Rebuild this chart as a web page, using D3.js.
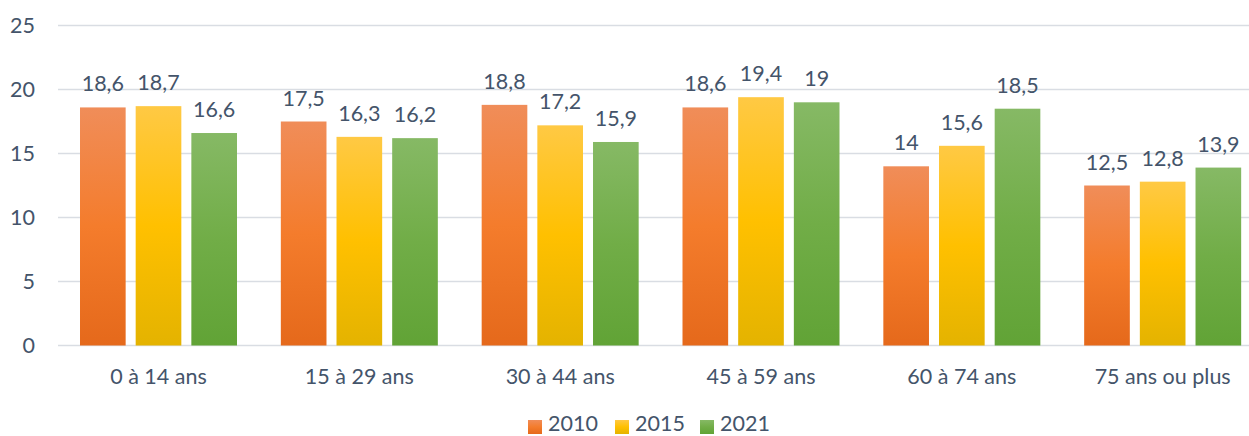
<!DOCTYPE html>
<html><head><meta charset="utf-8">
<script src="https://cdn.jsdelivr.net/npm/d3@7"></script>
<style>body{margin:0;background:#fff}svg{display:block}text{font-family:Lato,"Open Sans",sans-serif;fill:#44546A}</style>
</head><body><svg id="c" width="1249" height="436"></svg>
<script>
const categories = ["0 à 14 ans","15 à 29 ans","30 à 44 ans","45 à 59 ans","60 à 74 ans","75 ans ou plus"];
const seriesNames = ["2010","2015","2021"];
const values2010 = [18.6,17.5,18.8,18.6,14,12.5];
const values2015 = [18.7,16.3,17.2,19.4,15.6,12.8];
const values2021 = [16.6,16.2,15.9,19,18.5,13.9];
const yTicks = [0,5,10,15,20,25];
const seriesValues = [values2010, values2015, values2021];
const gradStops = [
  ["#F08D59","#F47C2C","#E5691B"],
  ["#FFC944","#FFC000","#E4B300"],
  ["#86B965","#71AD47","#61A336"]
];

const W=1249,H=436;
const svg=d3.select("#c");
const x=d3.scaleBand().domain(categories).range([58,1263]);
const y=d3.scaleLinear().domain([0,25]).range([345.5,25.5]);
const inner=d3.scaleBand().domain(seriesNames).range([22,179]).paddingInner(0.18);
const FS=21.5;

const defs=svg.append("defs");
gradStops.forEach((s,i)=>{
  const g=defs.append("linearGradient").attr("id","g"+i).attr("x1",0).attr("y1",0).attr("x2",0).attr("y2",1);
  g.append("stop").attr("offset","0%").attr("stop-color",s[0]);
  g.append("stop").attr("offset","50%").attr("stop-color",s[1]);
  g.append("stop").attr("offset","100%").attr("stop-color",s[2]);
});

svg.append("g").selectAll("line").data(yTicks).join("line")
  .attr("x1",58).attr("x2",W).attr("y1",d=>y(d)).attr("y2",d=>y(d))
  .attr("stroke","#D9DDE3").attr("stroke-width",1.3);
svg.append("g").selectAll("text").data(yTicks).join("text")
  .attr("x",35).attr("y",d=>y(d)).attr("dy","0.36em").attr("text-anchor","end")
  .attr("font-size",FS).text(d=>d);

const fmt=v=>String(v).replace(".",",");
seriesNames.forEach((s,i)=>{
  const g=svg.append("g");
  g.selectAll("rect").data(seriesValues[i]).join("rect")
    .attr("x",(d,j)=>x(categories[j])+inner(s)).attr("width",inner.bandwidth())
    .attr("y",d=>y(d)).attr("height",d=>y(0)-y(d)).attr("fill",`url(#g${i})`);
  g.selectAll("text").data(seriesValues[i]).join("text")
    .attr("x",(d,j)=>x(categories[j])+inner(s)+inner.bandwidth()/2)
    .attr("y",d=>y(d)-16).attr("text-anchor","middle").attr("font-size",FS).text(fmt);
});
svg.append("g").selectAll("text").data(categories).join("text")
  .attr("x",d=>x(d)+100.5).attr("y",384).attr("text-anchor","middle").attr("font-size",FS).text(d=>d);
const legX=[528,615,700];
const lg=svg.append("g");
seriesNames.forEach((s,i)=>{
  lg.append("rect").attr("x",legX[i]).attr("y",420).attr("width",14).attr("height",14).attr("fill",`url(#g${i})`);
  lg.append("text").attr("x",legX[i]+20).attr("y",431).attr("font-size",FS).text(s);
});
</script></body></html>
